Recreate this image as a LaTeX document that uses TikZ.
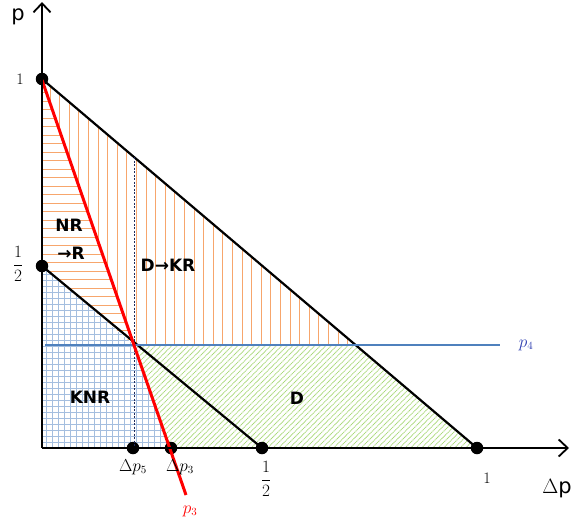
\documentclass[tikz,border=0pt]{standalone}
\usepackage{fontspec}
\usepackage{amsmath}
\newfontfamily\dejavu{DejaVu Sans}
\newfontfamily\dejavub{DejaVu Sans Bold}
\usetikzlibrary{arrows.meta}
\definecolor{hatchorange}{HTML}{F7A66C}
\definecolor{gridblue}{HTML}{A4BEDF}
\definecolor{hatchgreen}{HTML}{A9D97A}
\definecolor{linep}{HTML}{4F81BD}
\definecolor{labelblue}{HTML}{2F3FB0}
\definecolor{dashnavy}{HTML}{1F2A5A}
\begin{document}
\begin{tikzpicture}[x=1pt,y=-1pt,
  dot/.style={circle,fill=black,inner sep=0pt,minimum size=12.5pt},
  axis/.style={line width=2pt,-{Straight Barb[length=9pt,width=17pt,line width=1.8pt]}},
  bline/.style={line width=2.2pt,black},
  region/.style={font=\dejavub\fontsize{17}{20}\selectfont},
  mathlab/.style={font=\fontsize{16}{18}\selectfont}]
\useasboundingbox (0,0) rectangle (578,522);
% key points
\coordinate (O) at (42,448);
\coordinate (C) at (134,345);
\coordinate (E) at (356,345);
\coordinate (Ytop) at (42,2);
\coordinate (Xend) at (569,448);
\coordinate (R1) at (42,80);
\coordinate (R2) at (186,495);
\coordinate (P4a) at (45,345);
\coordinate (P4b) at (500,345);
\coordinate (Dtop) at (134,157);
\coordinate (Dbot) at (134,448);
% hatching: horizontal orange (NR -> R)
\begin{scope}
  \clip (42,79) -- (C) -- (42,266) -- cycle;
  \foreach \y in {84,92.5,...,345} \draw[hatchorange,line width=1pt] (42,\y) -- (140,\y);
\end{scope}
% vertical orange (D -> KR)
\begin{scope}
  \clip (42,79) -- (E) -- (C) -- cycle;
  \foreach \x in {50,59.6,...,360} \draw[hatchorange,line width=1pt] (\x,75) -- (\x,345);
\end{scope}
% blue grid (KNR)
\begin{scope}
  \clip (42,266) -- (C) -- (170,448) -- (O) -- cycle;
  \foreach \x in {46,52,...,176} \draw[gridblue,line width=0.8pt] (\x,260) -- (\x,448);
  \foreach \y in {448,442,...,260} \draw[gridblue,line width=0.8pt] (40,\y) -- (176,\y);
\end{scope}
% green diagonal (D)
\begin{scope}
  \clip (C) -- (E) -- (477,448) -- (170,448) -- cycle;
  \foreach \x in {20,25.5,...,600} \draw[hatchgreen,line width=0.8pt,dash pattern=on 1.2pt off 0.6pt] (\x,448) -- (\x+110,338);
\end{scope}
% dots
\node[dot] (A) at (42,79) {};
\node[dot] (B) at (42,266) {};
\node[dot] (D5) at (133,448) {};
\node[dot] (D3) at (171,448) {};
\node[dot] (H) at (262,448) {};
\node[dot] (X1) at (477,448) {};
% lines
\draw[bline] (A.center) -- (X1.center);
\draw[bline] (B.center) -- (H.center);
\draw[dashnavy,line width=0.6pt,dash pattern=on 2pt off 1.5pt] (Dtop) -- (Dbot);
\draw[linep,line width=2.8pt] (P4a) -- (P4b);
\draw[red,line width=3pt] (R1) -- (R2);
\draw[axis] (O) -- (Ytop);
\draw[axis] (O) -- (Xend);
% labels
\node[font=\dejavu\fontsize{21}{24}\selectfont] (lp) at (18,17) {p};
\node[font=\dejavu\fontsize{21}{24}\selectfont] (ldp) at (557,489) {$\Delta$p};
\node[mathlab] (l1y) at (20,79) {1};
\node[mathlab] (lhy) at (18,264) {$\dfrac{1}{2}$};
\node[mathlab] (l1x) at (487,478) {1};
\node[mathlab] (lhx) at (266,479) {$\dfrac{1}{2}$};
\node[mathlab] (ld5) at (133,467) {$\Delta p_5$};
\node[mathlab] (ld3) at (180,467) {$\Delta p_3$};
\node[mathlab,text=labelblue] (lp4) at (526,345) {$p_4$};
\node[mathlab,text=red] (lp3) at (190,511) {$p_3$};
\node[region] (nr) at (69,225) {NR};
\node[region] (nr2) at (71,253) {→R};
\node[region] (dkr) at (168,265) {D→KR};
\node[region] (knr) at (90,397) {KNR};
\node[region] (dd) at (297,398) {D};
\end{tikzpicture}
\end{document}
